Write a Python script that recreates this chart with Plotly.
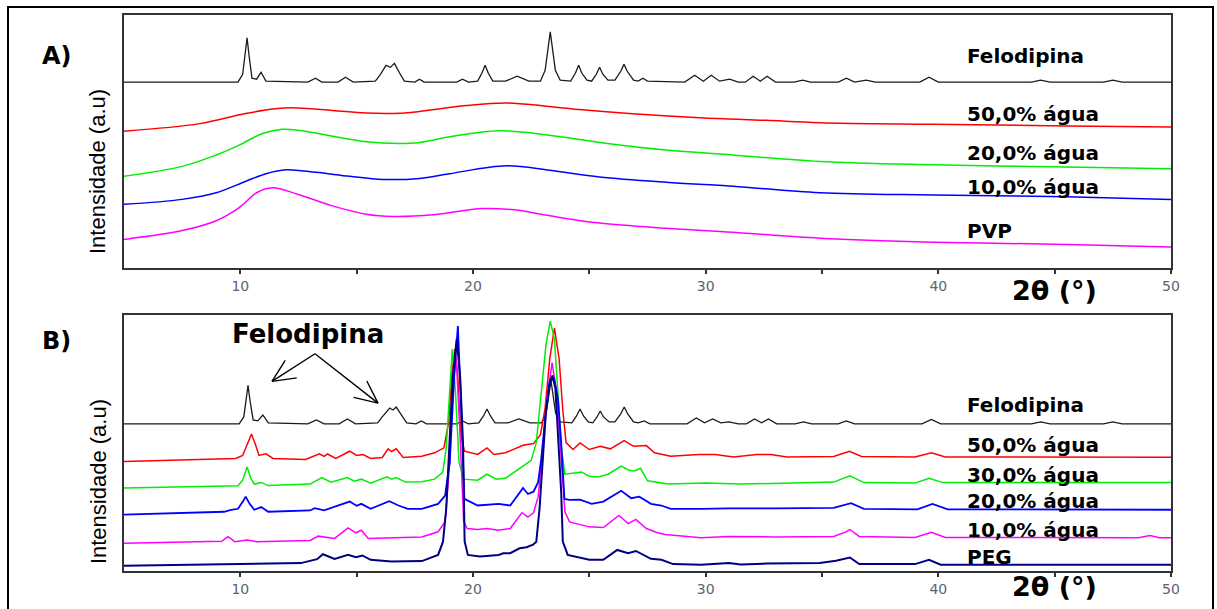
import math
import plotly.graph_objects as go

# ---------------- data (2-theta in degrees, intensity in a.u.) ----------------
# Panel A: Felodipina / PVP dispersions
FEL_A = [(5,188),(9.9,188),(10.1,196),(10.2,214),(10.29,233),(10.38,214),(10.5,192),(10.7,191),(10.89,198),(11.1,189),
         (12.9,188),(13.23,192),(13.5,188),(14.2,188),(14.52,193),(14.85,188),(15.8,189),(16.0,195),(16.26,205),(16.45,203),
         (16.62,207),(16.85,197),(17.05,189),(17.5,188),(17.7,191),(17.9,188),(19.3,188),(19.55,191),(19.8,188),(20.2,189),
         (20.38,197),(20.52,205),(20.66,197),(20.85,189),(21.4,189),(21.9,194),(22.4,189),(22.9,189),(23.1,200),(23.32,239),
         (23.54,200),(23.75,190),(24.2,189),(24.4,197),(24.54,205),(24.68,197),(24.9,190),(25.1,189),(25.3,196),(25.44,203),
         (25.58,196),(25.8,190),(26.1,190),(26.35,199),(26.49,206),(26.63,199),(26.9,190),(27.1,189),(27.3,192),(27.5,189),
         (29.1,188),(29.53,195),(29.9,189),(30.24,195),(30.6,189),(31.03,191),(31.4,188),(31.7,188),(32.04,194),(32.35,189),
         (32.64,194),(33.0,188),(33.8,188),(34.17,190),(34.5,188),(35.7,188),(36.05,192),(36.4,188),(36.9,190),(37.3,188),
         (39.2,188),(39.6,193),(40.0,188),(44.0,188),(44.4,190),(44.8,188),(47.1,188),(47.5,190),(47.9,188),(50,188)]
RED_A = [(5,138.3),(8.25,146),(10.17,156),(11.5,161),(12.2,162),(13.96,159.3),(15.4,156.7),(16.85,156.5),(17.7,158.3),
         (19.7,164.3),(21.43,167),(23.15,163.7),(24.7,160),(26.86,156),(29.74,152),(32.6,149.3),(34.9,147),(39.8,145.3),
         (45.5,143.7),(50,142.7)]
GREEN_A = [(5,92.7),(7.5,102.7),(8.96,114.3),(9.95,124.3),(10.95,136),(11.8,140.3),(12.5,139.3),(13.96,133.3),(15.4,127.7),
           (16.84,126),(17.7,127),(19.0,132.7),(21.14,138.7),(23.29,134.3),(25.44,127),(28.3,119.3),(31.17,114.3),
           (34.9,107.7),(39.8,104.3),(45.5,102),(50,100.3)]
BLUE_A = [(5,64.3),(7.5,69.3),(8.96,76),(10.24,87.7),(11.1,95.3),(11.96,99.3),(13.25,96.7),(14.7,92.7),(16.1,89.5),
          (17.7,90.5),(19.0,95.3),(21.43,103.3),(23.3,98.7),(25.44,92),(28.3,86.7),(31.17,82.7),(34.9,76),(39.8,73.7),
          (45.5,72),(50,69.3)]
MAG_A = [(5,28.7),(7.5,37.7),(8.96,47.7),(9.95,61),(10.7,76),(11.36,81),(12.5,74.3),(13.96,62.7),(15.4,54.3),(16.56,52),
         (18.3,53.7),(20.4,60),(21.8,58.7),(23.3,52.7),(25.44,45.3),(28.3,40),(31.17,36),(34.9,30),(39.8,26),(45.5,23.7),
         (50,21)]

# Panel B: Felodipina / PEG dispersions
FEL_B = [(5,149),(9.95,149),(10.15,156),(10.25,172),(10.33,188),(10.42,172),(10.55,153),(10.75,152),(10.97,158),(11.2,150),
         (12.9,149),(13.27,153),(13.6,149),(14.25,149),(14.6,154),(14.95,149),(15.9,150),(16.1,156),(16.42,165),(16.56,163),
         (16.7,166),(16.95,157),(17.15,150),(17.55,149),(17.78,152),(18.0,149),(19.3,149),(19.55,152),(19.8,149),(20.25,150),
         (20.45,157),(20.6,164),(20.75,157),(20.95,150),(21.5,150),(21.97,154),(22.45,150),(22.95,150),(23.15,160),(23.35,193),
         (23.55,160),(23.75,151),(24.25,150),(24.45,157),(24.6,164),(24.75,157),(24.95,151),(25.15,150),(25.33,156),(25.47,162),
         (25.61,156),(25.85,151),(26.1,151),(26.35,159),(26.5,166),(26.65,159),(26.9,151),(27.1,150),(27.36,152),(27.6,149),
         (29.2,149),(29.6,155),(29.95,150),(30.3,154),(30.65,150),(31.0,151),(31.4,149),(31.75,149),(32.1,154),(32.4,150),
         (32.7,154),(33.05,149),(33.85,149),(34.2,151),(34.55,149),(35.7,149),(36.04,152),(36.4,149),(39.3,149),(39.7,153.5),
         (40.1,149),(44.0,149),(44.4,151),(44.8,149),(47.1,149),(47.5,151),(47.9,149),(50,149)]
RED_B = [(5,111),(9.8,114),(10.1,117),(10.3,128),(10.48,138.7),(10.65,128),(10.8,117),(11.1,118.7),(11.4,114),(12.8,113),
         (13.4,118.7),(13.6,116),(13.75,118.5),(14.1,114),(14.7,121.3),(15.0,117),(15.27,118),(15.6,114),(16.1,115),
         (16.35,123.7),(16.5,121),(16.7,123.7),(17.0,115),(17.8,116.3),(18.35,119.7),(18.75,124.7),(18.95,150),(19.1,200),
         (19.22,225),(19.34,200),(19.47,140),(19.63,121.3),(20.2,118),(20.6,124.7),(20.9,118),(21.4,119.7),(22.15,127.3),
         (22.6,129),(22.9,138),(23.1,165),(23.3,215),(23.5,246),(23.7,215),(23.86,163),(24.0,130),(24.3,123),(24.6,129.7),
         (25.0,123),(25.47,126.3),(25.9,123.7),(26.5,132),(26.9,126.3),(27.45,127),(27.8,119.7),(28.5,116.3),(29.7,118),
         (30.4,118),(31.2,115.5),(32.2,118),(32.8,118),(33.5,115.5),(35.5,116),(36.18,121.3),(36.7,116),(39.0,115.5),
         (39.7,119.7),(40.3,115.5),(50,115.3)]
GREEN_B = [(5,84),(9.9,86.3),(10.1,92),(10.29,105.3),(10.45,94),(10.6,88),(10.9,89.7),(11.2,86.5),(13.0,88),(13.5,94.7),
           (13.9,90),(14.6,94.7),(14.9,91),(15.2,93),(15.6,89),(16.3,95.3),(16.5,93),(16.7,94.7),(17.1,90),(17.8,90.3),
           (18.35,93),(18.7,100),(18.85,125),(18.99,180),(19.11,224.7),(19.25,180),(19.4,110),(19.6,93),(20.2,92),(20.6,98),
           (21.0,93),(21.4,94),(22.15,106.3),(22.5,112),(22.72,130),(22.93,180),(23.14,230),(23.32,253),(23.5,235),
           (23.65,180),(23.8,125),(23.95,98),(24.66,100.3),(25.0,96),(25.4,95.3),(25.8,98),(26.37,106.3),(26.7,102),
           (26.94,101.3),(27.2,104),(27.5,91.3),(28.4,88),(30,89),(31.5,88),(34,89),(35.5,90),(36.2,96.3),(36.8,89.5),
           (39.0,89),(39.6,94),(40.2,89.5),(50,89.7)]
BLUE_B = [(5,57),(9.3,60),(9.6,62),(9.9,63),(10.1,70),(10.23,75.3),(10.4,68),(10.6,62),(10.9,64.7),(11.2,60),(13.0,61.3),
          (13.2,63.7),(13.6,61.5),(14.7,70.3),(15.0,66),(15.2,68),(15.6,63),(16.4,70.7),(16.8,66.3),(17.2,63),(17.8,63),
          (18.5,68),(18.8,76.3),(19.0,110),(19.2,200),(19.35,248),(19.5,160),(19.63,73),(20.2,66.3),(21.1,68),(21.6,66.3),
          (22.15,84),(22.36,78),(22.6,80.3),(22.8,90),(22.93,113),(23.14,163),(23.3,190),(23.47,196),(23.65,175),
          (23.79,130),(23.93,73),(24.15,72),(24.6,72.3),(25.1,68),(25.6,70.3),(26.37,81.3),(26.8,73.7),(27.15,75.3),
          (27.65,68),(28.1,66.3),(28.5,63),(29.8,63),(31,63.5),(33,63.5),(35.5,64),(36.25,68.7),(36.8,63),(39.1,62.5),
          (39.75,68),(40.4,62.5),(50,62)]
MAG_B = [(5,28),(9.2,30),(9.47,34.7),(9.76,29.7),(10.3,31.3),(10.7,29.7),(13.0,31),(13.34,35.3),(14.05,33),(14.63,43.7),
         (14.97,38.7),(15.2,41.3),(15.5,33),(17.0,33.7),(17.8,34.5),(18.5,39.7),(18.8,49.7),(19.0,110),(19.15,190),
         (19.28,215),(19.42,150),(19.6,50),(19.75,43),(20.2,42),(20.6,43),(21.1,41.3),(21.6,43),(22.1,59),(22.36,54.7),
         (22.6,59),(22.8,75),(22.95,110),(23.15,170),(23.4,211),(23.6,180),(23.8,110),(23.95,60),(24.15,49.7),(25.0,44.7),
         (25.6,44),(26.27,56.3),(26.67,48),(27.0,52.3),(27.45,43),(27.9,39),(28.25,37),(29.8,33.7),(31.0,35),(33.0,34.5),
         (35.5,35),(36.0,39.3),(36.2,42),(36.6,35),(39.0,34),(39.7,39.3),(40.3,34),(48.6,33.7),(49.1,36),(49.5,33.7),
         (50,33.7)]
NAVY_B = [(5,5.3),(9.0,6.5),(12.6,8),(13.3,12),(13.55,17),(14.05,12.3),(14.63,16.3),(14.97,14),(15.25,15.7),(15.6,11.3),
          (16.5,9.7),(17.8,10),(18.5,16.3),(18.71,29.7),(18.85,63),(18.99,130),(19.13,196),(19.3,235),(19.45,196),
          (19.57,130),(19.64,30),(19.78,16.3),(20.3,14.7),(21.1,16.3),(21.3,18),(21.6,18),(22.0,23),(22.3,24),(22.58,26.7),
          (22.72,29.7),(22.86,63),(23.0,113),(23.14,163),(23.3,192),(23.42,198),(23.54,185),(23.64,146),(23.79,80),
          (23.86,29.7),(24.07,16.3),(25.0,11.3),(25.6,11.3),(26.2,21.3),(26.67,18),(27.0,20.3),(27.65,12.3),(28.1,11.3),
          (28.6,7),(29.8,6.3),(31.0,8),(31.5,6.5),(32.6,7.5),(34.9,8),(35.6,10.3),(36.2,13.7),(36.6,7),(39.0,7),(39.6,11.3),
          (40.1,6.3),(50,6.3)]

X_TICKS = [10, 20, 30, 40, 50]
X_MINOR = [15, 25, 35, 45]

LABELS_A = ["Felodipina", "50,0% água", "20,0% água", "10,0% água", "PVP"]
LABELS_B = ["Felodipina", "50,0% água", "30,0% água", "20,0% água", "10,0% água", "PEG"]

# ---------------- layout helpers ----------------
W, H = 1217, 609
L, R, T, B = 124, 1171, 15, 578   # plot area in pixels


def px(x):
    return (x - L) / (R - L)


def py(y):
    return (B - y) / (B - T)


BOLD = "DejaVu Sans"
fig = go.Figure()


def add(series, color, ax, shape="linear", width=1.5):
    xs = [p[0] for p in series]
    ys = [p[1] for p in series]
    fig.add_trace(go.Scatter(x=xs, y=ys, mode="lines", xaxis=ax[0], yaxis=ax[1],
                             line=dict(color=color, width=width, shape=shape), showlegend=False,
                             hoverinfo="skip"))


add(FEL_A, "#1a1a1a", ("x", "y"), width=1.3)
add(RED_A, "#ff0000", ("x", "y"), "spline")
add(GREEN_A, "#00ee00", ("x", "y"), "spline")
add(BLUE_A, "#0000ff", ("x", "y"), "spline")
add(MAG_A, "#ff00ff", ("x", "y"), "spline")

add(FEL_B, "#1a1a1a", ("x2", "y2"), width=1.3)
add(RED_B, "#ff0000", ("x2", "y2"))
add(GREEN_B, "#00ee00", ("x2", "y2"))
add(MAG_B, "#ff00ff", ("x2", "y2"))
add(BLUE_B, "#0000ff", ("x2", "y2"), width=1.8)
add(NAVY_B, "#000080", ("x2", "y2"), width=2.0)

axis_common = dict(showline=True, mirror=True, linecolor="#333333", linewidth=2, showgrid=False, zeroline=False)
xcommon = dict(axis_common, range=[5, 50], tickmode="array", tickvals=X_TICKS, ticks="outside", ticklen=4,
               tickwidth=1.5, tickcolor="#333333",
               minor=dict(ticks="outside", tickvals=X_MINOR, ticklen=4, tickwidth=1.5, tickcolor="#333333"),
               tickfont=dict(family="DejaVu Sans", size=14, color="#5b6470"))
ycommon = dict(axis_common, showticklabels=False, ticks="")

fig.update_layout(
    width=W, height=H, margin=dict(l=L, r=W - R, t=T, b=H - B, pad=0),
    paper_bgcolor="white", plot_bgcolor="white",
    xaxis=dict(xcommon, domain=[0, 1], anchor="y"),
    yaxis=dict(ycommon, domain=[py(271), 1], range=[0, 256], anchor="x"),
    xaxis2=dict(xcommon, domain=[0, 1], anchor="y2"),
    yaxis2=dict(ycommon, domain=[0, py(319)], range=[0, 259], anchor="x2"),
)

ann = []


def text(t, x, y, size, family=BOLD, bold=True, xanchor="left", angle=0, color="black"):
    ann.append(dict(text=f"<b>{t}</b>" if bold else t, x=px(x), y=py(y), xref="paper", yref="paper",
                    showarrow=False, xanchor=xanchor, yanchor="middle", textangle=angle,
                    font=dict(family=family, size=size, color=color)))


text("A)", 40, 57, 24)
text("B)", 40, 345, 24)
for lab, yy in zip(LABELS_A, [57, 115, 155, 189, 234]):
    text(lab, 965, yy, 20)
for lab, yy in zip(LABELS_B, [410, 450, 481, 507, 536, 564]):
    text(lab, 965, yy, 20)
text("2θ (°)", 1054, 294, 27, xanchor="center")
text("2θ (°)", 1054, 594, 27, xanchor="center")
text("Felodipina", 308, 338, 26, xanchor="center")
narrow = "Liberation Sans Narrow, Liberation Sans, Arial, sans-serif"
text("Intensidade (a.u)", 97, 174, 22, family=narrow, bold=False, xanchor="center", angle=-90)
text("Intensidade (a.u)", 98, 488, 22, family=narrow, bold=False, xanchor="center", angle=-90)
fig.update_layout(annotations=ann)

# outer frame and the two open arrows of the "Felodipina" callout
shapes = [dict(type="rect", xref="paper", yref="paper", x0=px(8), x1=px(1213), y0=py(620), y1=py(7),
               line=dict(color="black", width=2), fillcolor="rgba(0,0,0,0)")]
apex = (315, 358)
for tip in [(272, 386), (378, 408)]:
    shapes.append(dict(type="line", xref="paper", yref="paper", x0=px(apex[0]), y0=py(apex[1]),
                       x1=px(tip[0]), y1=py(tip[1]), line=dict(color="black", width=1.4)))
    dx, dy = apex[0] - tip[0], apex[1] - tip[1]
    ang = math.atan2(dy, dx)
    for s in (-1, 1):
        a = ang + s * math.radians(25)
        bx, by = tip[0] + 25 * math.cos(a), tip[1] + 25 * math.sin(a)
        shapes.append(dict(type="line", xref="paper", yref="paper", x0=px(tip[0]), y0=py(tip[1]),
                           x1=px(bx), y1=py(by), line=dict(color="black", width=1.4)))
fig.update_layout(shapes=shapes)

fig.write_html("out.html")
